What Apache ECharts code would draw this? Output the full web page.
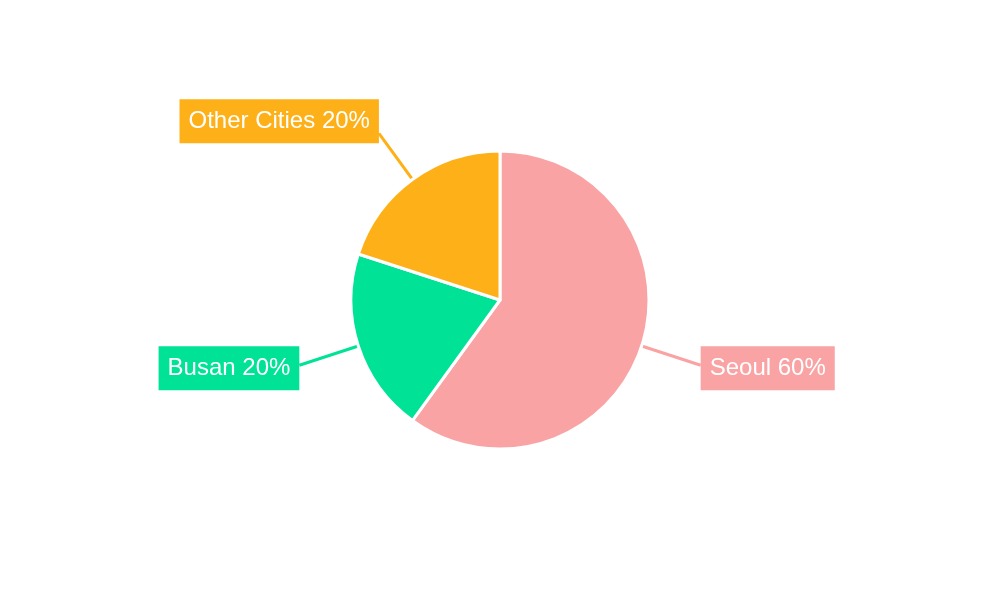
<!DOCTYPE html>
<html>
<head>
<meta charset="utf-8">
<style>html,body{margin:0;padding:0;background:#fff}#c{width:1000px;height:600px}</style>
<script src="https://cdn.jsdelivr.net/npm/echarts@6/dist/echarts.min.js"></script>
</head>
<body>
<div id="c"></div>
<script>
const categories = ['Seoul', 'Busan', 'Other Cities'];
const values = [60, 20, 20];
const colors = ['#F9A3A4', '#00E396', '#FEB019'];

const lineLengths = [62, 62, 57];
const labelShiftY = [3, 3, -12];

const chart = echarts.init(document.getElementById('c'));
chart.setOption({
  animation: false,
  backgroundColor: '#ffffff',
  series: [{
    type: 'pie',
    center: [500, 300],
    radius: 149,
    startAngle: 90,
    clockwise: true,
    data: categories.map((n, i) => ({
      name: n, value: values[i],
      itemStyle: { color: colors[i] },
      label: { backgroundColor: colors[i] },
      labelLine: { length: lineLengths[i], lineStyle: { color: colors[i] } }
    })),
    itemStyle: { borderColor: '#ffffff', borderWidth: 3 },
    label: {
      formatter: '{b} {d}%',
      color: '#ffffff',
      fontFamily: 'Liberation Sans, Arial, sans-serif',
      fontSize: 24,
      padding: [10, 9, 10, 9],
      distanceToLabelLine: 0
    },
    labelLine: {
      show: true,
      length: 62,
      length2: 0,
      lineStyle: { width: 3 }
    },
    labelLayout: function (p) {
      return { dy: labelShiftY[p.dataIndex] };
    }
  }]
});
</script>
</body>
</html>
